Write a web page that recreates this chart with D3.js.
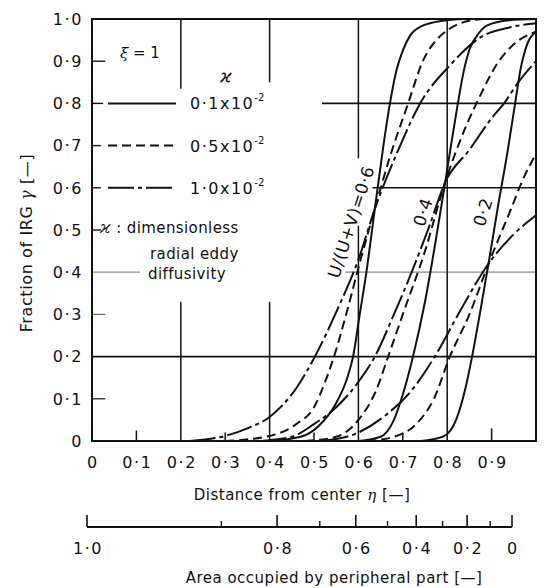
<!DOCTYPE html>
<html>
<head>
<meta charset="utf-8">
<script src="https://cdn.jsdelivr.net/npm/d3@7"></script>
<style>
  body { margin: 0; background: #fff; }
  svg { display: block; }
  text { font-family: "DejaVu Sans", sans-serif; fill: #111; }
</style>
</head>
<body>
<svg id="chart" width="548" height="588"></svg>
<script>
// ---- axis ticks and labels ----
const yTickValues = [0, 0.1, 0.2, 0.3, 0.4, 0.5, 0.6, 0.7, 0.8, 0.9, 1.0];
const yTickLabels = ["0", "0·1", "0·2", "0·3", "0·4", "0·5", "0·6", "0·7", "0·8", "0·9", "1·0"];
const xTickValues = [0, 0.1, 0.2, 0.3, 0.4, 0.5, 0.6, 0.7, 0.8, 0.9];
const xTickLabels = ["0", "0·1", "0·2", "0·3", "0·4", "0·5", "0·6", "0·7", "0·8", "0·9"];
const areaMajor = [1.0, 0.8, 0.6, 0.4, 0.2, 0];
const areaMajorLabels = ["1·0", "0·8", "0·6", "0·4", "0·2", "0"];
const areaMinor = [0.9, 0.7, 0.5, 0.3, 0.1];

// ---- series: kappa values and U/(U+V) groups ----
const kappaLabels = ["0·1", "0·5", "1·0"];
const ratioLabels = ["U/(U+V)=0·6", "0·4", "0·2"];

// U/(U+V) = 0.6
const r06k01 = [[0.40,0],[0.47,0.01],[0.51,0.035],[0.55,0.09],[0.575,0.15],[0.588,0.2],[0.603,0.3],[0.618,0.4],[0.637,0.55],[0.655,0.69],[0.671,0.8],[0.686,0.88],[0.70,0.925],[0.716,0.96],[0.74,0.982],[0.79,0.996],[0.84,1.0]];
const r06k05 = [[0.30,0],[0.40,0.012],[0.46,0.04],[0.50,0.08],[0.525,0.14],[0.545,0.2],[0.575,0.31],[0.605,0.43],[0.637,0.55],[0.67,0.67],[0.712,0.8],[0.745,0.9],[0.78,0.955],[0.80,0.973],[0.83,0.99],[0.88,1.0]];
const r06k10 = [[0.22,0],[0.30,0.012],[0.35,0.03],[0.40,0.057],[0.462,0.128],[0.502,0.2],[0.552,0.31],[0.60,0.43],[0.637,0.55],[0.69,0.69],[0.739,0.8],[0.806,0.89],[0.874,0.956],[0.94,0.98],[1.0,0.99]];
// U/(U+V) = 0.4
const r04k01 = [[0.60,0],[0.65,0.01],[0.68,0.05],[0.70,0.11],[0.723,0.2],[0.75,0.33],[0.775,0.48],[0.795,0.61],[0.81,0.71],[0.824,0.8],[0.838,0.88],[0.851,0.93],[0.87,0.965],[0.89,0.985],[0.94,0.997],[1.0,1.0]];
const r04k05 = [[0.48,0],[0.55,0.01],[0.60,0.05],[0.64,0.12],[0.667,0.2],[0.70,0.3],[0.75,0.45],[0.795,0.612],[0.84,0.74],[0.875,0.82],[0.91,0.89],[0.95,0.94],[1.0,0.97]];
const r04k10 = [[0.38,0],[0.45,0.01],[0.50,0.04],[0.55,0.08],[0.60,0.14],[0.637,0.2],[0.68,0.3],[0.72,0.4],[0.76,0.51],[0.795,0.612],[0.85,0.69],[0.90,0.765],[0.928,0.8],[0.96,0.85],[1.0,0.9]];
// U/(U+V) = 0.2
const r02k01 = [[0.74,0],[0.79,0.01],[0.82,0.05],[0.84,0.12],[0.856,0.2],[0.875,0.31],[0.893,0.42],[0.915,0.56],[0.935,0.68],[0.953,0.8],[0.965,0.88],[0.98,0.94],[1.0,0.97]];
const r02k05 = [[0.62,0],[0.68,0.01],[0.73,0.04],[0.77,0.1],[0.806,0.2],[0.85,0.3],[0.893,0.42],[0.94,0.54],[0.975,0.63],[1.0,0.68]];
const r02k10 = [[0.52,0],[0.60,0.02],[0.66,0.06],[0.72,0.12],[0.772,0.2],[0.83,0.31],[0.893,0.42],[0.95,0.49],[1.0,0.535]];

const series = [
  { pts: r06k01, k: 0 }, { pts: r06k05, k: 1 }, { pts: r06k10, k: 2 },
  { pts: r04k01, k: 0 }, { pts: r04k05, k: 1 }, { pts: r04k10, k: 2 },
  { pts: r02k01, k: 0 }, { pts: r02k05, k: 1 }, { pts: r02k10, k: 2 }
];
// solid, dashed, long dash with short marks
const dashes = [null, "9,5", "26,4,4,4"];

// ---- scales ----
const x = d3.scaleLinear().domain([0, 1]).range([92, 536]);
const y = d3.scaleLinear().domain([0, 1]).range([441, 19]);
const eta = d3.scaleLinear().domain([0, 1]).range([87, 512]);   // secondary axis in terms of eta
const areaPos = a => eta(Math.sqrt(1 - a));                     // peripheral area = 1 - eta^2

const svg = d3.select("#chart");
const ink = "#111";

// ---- partial grid lines (interrupted around the annotations) ----
const hSeg = [
  { v: 0.2, from: 0, to: 1, c: ink, w: 1.6 },
  { v: 0.8, from: 0.518, to: 1, c: ink, w: 1.6 },
  { v: 0.6, from: 0.632, to: 1, c: ink, w: 1.4 },
  { v: 0.4, from: 0.57, to: 1, c: "#888", w: 1.2 },
  { v: 0.4, from: 0, to: 0.108, c: "#888", w: 1.2 },
  { v: 0.9, from: 0, to: 0.03, c: ink, w: 1.4 },
  { v: 0.8, from: 0, to: 0.025, c: ink, w: 1.4 },
  { v: 0.7, from: 0, to: 0.02, c: ink, w: 1.4 },
  { v: 0.6, from: 0, to: 0.02, c: ink, w: 1.4 },
  { v: 0.5, from: 0, to: 0.02, c: ink, w: 1.4 },
  { v: 0.3, from: 0, to: 0.03, c: "#666", w: 1.2 },
  { v: 0.1, from: 0, to: 0.03, c: ink, w: 1.2 }
];
svg.append("g").selectAll("line").data(hSeg).join("line")
  .attr("x1", d => x(d.from)).attr("x2", d => x(d.to))
  .attr("y1", d => y(d.v)).attr("y2", d => y(d.v))
  .attr("stroke", d => d.c).attr("stroke-width", d => d.w);

const vSeg = [
  { v: 0.2, from: 0.835, to: 1 }, { v: 0.2, from: 0, to: 0.33 },
  { v: 0.4, from: 0.85, to: 1 }, { v: 0.4, from: 0, to: 0.33 },
  { v: 0.6, from: 0.67, to: 1 }, { v: 0.6, from: 0, to: 0.51 },
  { v: 0.8, from: 0, to: 1 },
  { v: 0.1, from: 0, to: 0.025 }, { v: 0.3, from: 0, to: 0.02 },
  { v: 0.5, from: 0, to: 0.02 }, { v: 0.7, from: 0, to: 0.02 },
  { v: 0.9, from: 0, to: 0.03 }
];
svg.append("g").selectAll("line").data(vSeg).join("line")
  .attr("x1", d => x(d.v)).attr("x2", d => x(d.v))
  .attr("y1", d => y(d.from)).attr("y2", d => y(d.to))
  .attr("stroke", ink).attr("stroke-width", 1.5);

// ---- frame ----
svg.append("rect")
  .attr("x", x(0)).attr("y", y(1))
  .attr("width", x(1) - x(0)).attr("height", y(0) - y(1))
  .attr("fill", "none").attr("stroke", ink).attr("stroke-width", 2);

// ---- curves ----
const line = d3.line().x(d => x(d[0])).y(d => y(d[1])).curve(d3.curveMonotoneX);
svg.append("g").selectAll("path").data(series).join("path")
  .attr("d", d => line(d.pts))
  .attr("fill", "none").attr("stroke", ink).attr("stroke-width", 2)
  .attr("stroke-dasharray", d => dashes[d.k]);

// ---- y axis labels ----
svg.append("g").selectAll("text").data(yTickValues).join("text")
  .attr("x", 83).attr("y", d => y(d)).attr("dy", "0.36em")
  .attr("text-anchor", "end").attr("font-size", 16).attr("letter-spacing", 1.6)
  .text((d, i) => yTickLabels[i]);

// ---- x axis labels ----
svg.append("g").selectAll("text").data(xTickValues).join("text")
  .attr("x", d => x(d) + 1).attr("y", 468)
  .attr("text-anchor", "middle").attr("font-size", 16).attr("letter-spacing", 1.6)
  .text((d, i) => xTickLabels[i]);

// ---- axis titles ----
const yt = svg.append("text")
  .attr("transform", "translate(32,243) rotate(-90)")
  .attr("text-anchor", "middle").attr("font-size", 16).attr("letter-spacing", 0.6);
yt.append("tspan").text("Fraction of IRG ");
yt.append("tspan").attr("font-family", "DejaVu Serif").attr("font-style", "italic").text("γ");
yt.append("tspan").text(" [—]");

const xt = svg.append("text")
  .attr("x", 302).attr("y", 500)
  .attr("text-anchor", "middle").attr("font-size", 15).attr("letter-spacing", 0.5);
xt.append("tspan").text("Distance from center ");
xt.append("tspan").attr("font-family", "DejaVu Serif").attr("font-style", "italic").text("η");
xt.append("tspan").text(" [—]");

// ---- secondary axis: area occupied by peripheral part ----
const ax2 = svg.append("g");
ax2.append("line").attr("x1", areaPos(1)).attr("x2", areaPos(0))
  .attr("y1", 527).attr("y2", 527).attr("stroke", ink).attr("stroke-width", 2);
ax2.selectAll("line.maj").data(areaMajor).join("line").attr("class", "maj")
  .attr("x1", d => areaPos(d)).attr("x2", d => areaPos(d))
  .attr("y1", 527).attr("y2", 515).attr("stroke", ink).attr("stroke-width", 1.6);
ax2.selectAll("line.min").data(areaMinor).join("line").attr("class", "min")
  .attr("x1", d => areaPos(d)).attr("x2", d => areaPos(d))
  .attr("y1", 527).attr("y2", 521).attr("stroke", ink).attr("stroke-width", 1.4);
ax2.selectAll("text").data(areaMajor).join("text")
  .attr("x", d => areaPos(d) + 1).attr("y", 554)
  .attr("text-anchor", "middle").attr("font-size", 16).attr("letter-spacing", 1.6)
  .text((d, i) => areaMajorLabels[i]);
svg.append("text").attr("x", 334).attr("y", 583)
  .attr("text-anchor", "middle").attr("font-size", 15).attr("letter-spacing", 0.5)
  .text("Area occupied by peripheral part  [—]");

// ---- legend ----
const lg = svg.append("g");
lg.append("text").attr("x", 120).attr("y", 58).attr("font-size", 15)
  .html('<tspan font-family="DejaVu Serif" font-style="italic">ξ</tspan> = 1');
lg.append("text").attr("x", 220).attr("y", 82).attr("font-size", 18)
  .attr("font-family", "DejaVu Serif").attr("font-style", "italic").text("ϰ");
const legendRows = [0.8, 0.7, 0.6];
legendRows.forEach((v, i) => {
  lg.append("line").attr("x1", 108).attr("x2", 176)
    .attr("y1", y(v)).attr("y2", y(v))
    .attr("stroke", ink).attr("stroke-width", 2).attr("stroke-dasharray", dashes[i]);
  const t = lg.append("text").attr("x", 190).attr("y", y(v) + 6)
    .attr("font-size", 16).attr("letter-spacing", 1.5);
  t.append("tspan").text(kappaLabels[i] + "x10");
  t.append("tspan").attr("dy", -8).attr("font-size", 10).attr("letter-spacing", 0).text("-2");
});
const note = lg.append("g").attr("font-size", 15).attr("letter-spacing", 0.4);
note.append("text").attr("x", 100).attr("y", 233)
  .html('<tspan font-family="DejaVu Serif" font-style="italic" font-size="17">ϰ</tspan> : dimensionless');
note.append("text").attr("x", 150).attr("y", 259).text("radial eddy");
note.append("text").attr("x", 148).attr("y", 279).text("diffusivity");

// ---- curve group labels ----
const groupLabelPos = [[351, 222], [423, 212], [483, 212]];
svg.append("g").selectAll("text").data(ratioLabels).join("text")
  .attr("transform", (d, i) => `translate(${groupLabelPos[i][0]},${groupLabelPos[i][1]}) rotate(-72)`)
  .attr("text-anchor", "middle").attr("dy", "0.35em")
  .attr("font-size", 17).attr("letter-spacing", 0.5)
  .text(d => d);
</script>
</body>
</html>
